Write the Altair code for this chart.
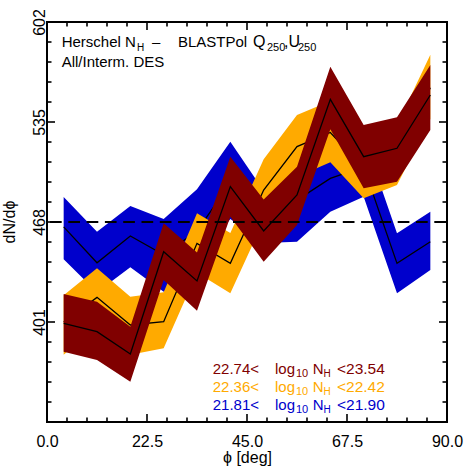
import altair as alt
import numpy as np
import pandas as pd

# ---------------- data ----------------
phi = [3.75, 11.25, 18.75, 26.25, 33.75, 41.25, 48.75, 56.25, 63.75, 71.25, 78.75, 86.25]

# 21.81 < log10 NH < 21.90  (blue)
blue_mid = [464.7, 440.7, 458.6, 446.0, 462.0, 494.0, 474.0, 482.7, 497.2, 505.0, 440.3, 454.8]
blue_hi = [484.8, 461.5, 478.7, 470.0, 490.0, 521.8, 489.0, 503.0, 517.0, 525.0, 460.4, 474.9]
blue_lo = [443.0, 421.0, 437.6, 421.3, 440.0, 470.0, 454.0, 454.8, 474.9, 485.0, 420.2, 435.8]

# 22.36 < log10 NH < 22.42  (orange)
orange_mid = [401.0, 417.5, 399.0, 401.2, 453.7, 440.3, 489.4, 518.5, 528.0, 504.0, 513.0, 558.0]
orange_hi = [419.0, 437.0, 418.0, 421.0, 473.8, 460.6, 510.0, 539.7, 549.0, 524.0, 533.0, 580.0]
orange_lo = [379.0, 398.0, 379.0, 383.4, 434.0, 420.2, 469.0, 498.4, 508.0, 483.9, 492.8, 537.0]

# 22.74 < log10 NH < 23.54  (dark red)
red_mid = [400.1, 394.5, 379.6, 448.1, 428.5, 491.7, 462.0, 486.1, 550.2, 511.8, 517.4, 553.1]
red_hi = [419.8, 414.6, 397.9, 467.1, 447.5, 511.8, 483.0, 505.0, 572.0, 533.0, 538.2, 573.2]
red_lo = [381.0, 375.5, 361.0, 429.1, 408.5, 471.6, 441.4, 466.0, 530.1, 490.6, 495.0, 529.6]

mean_level = 468.0

series_names = ["blue", "orange", "red"]
series_colors = ["#0000cc", "#ffaa00", "#800000"]
legend_lo = ["21.81", "22.36", "22.74"]
legend_hi = ["21.90", "22.42", "23.54"]

x_ticks = [0.0, 22.5, 45.0, 67.5, 90.0]
y_ticks = [401, 468, 535, 602]
x_range = [0.0, 90.0]
y_range = [334.0, 602.0]

# ---------------- build tables ----------------
rows = []
for name, mid, lo, hi in zip(series_names,
                             [blue_mid, orange_mid, red_mid],
                             [blue_lo, orange_lo, red_lo],
                             [blue_hi, orange_hi, red_hi]):
    for p, m, l, h in zip(phi, mid, lo, hi):
        rows.append(dict(series=name, phi=p, mid=m, lo=l, hi=h))
df = pd.DataFrame(rows)

W, H = 400, 400
PADL, PADT = 47, 22
FONT = "Liberation Sans"

xs = alt.Scale(domain=x_range, nice=False, zero=False)
ys = alt.Scale(domain=y_range, nice=False, zero=False)

xaxis = alt.Axis(values=x_ticks, format=".1f", labelFlush=False, labelPadding=11,
                 ticks=False, tickSize=0, domain=False, grid=False, title=None,
                 labelFontSize=16, labelFont=FONT, labelColor="black", labelOverlap=False)
yaxis = alt.Axis(values=y_ticks, labelAngle=270, labelAlign="center", labelBaseline="alphabetic",
                 labelPadding=3, ticks=False, tickSize=0, domain=False, grid=False, title=None,
                 labelFontSize=16, labelFont=FONT, labelColor="black", labelOverlap=False,
                 labelBound=False)

layers = []
base = alt.Chart(df)
for name, color in zip(series_names, series_colors):
    d = base.transform_filter(alt.datum.series == name)
    layers.append(d.mark_area(color=color, opacity=1, strokeWidth=0).encode(
        x=alt.X("phi:Q", scale=xs, axis=xaxis),
        y=alt.Y("lo:Q", scale=ys, axis=yaxis),
        y2="hi:Q"))
    layers.append(d.mark_line(color="black", strokeWidth=1.3).encode(
        x=alt.X("phi:Q", scale=xs, axis=xaxis),
        y=alt.Y("mid:Q", scale=ys, axis=yaxis)))

# dashed mean line
mean_df = pd.DataFrame({"x": [x_range[0]], "x2": [x_range[1]], "y": [mean_level]})
layers.append(alt.Chart(mean_df).mark_rule(color="black", strokeWidth=2,
                                           strokeDash=[11.7, 6.6], strokeDashOffset=15.3).encode(
    x=alt.X("x:Q", scale=xs, axis=xaxis), x2="x2:Q",
    y=alt.Y("y:Q", scale=ys, axis=yaxis)))

# inward ticks on all four sides
dxp = (x_range[1] - x_range[0]) / W
dyp = (y_range[1] - y_range[0]) / H
tick_rows = []
xt_minor = np.linspace(x_range[0], x_range[1], 21)
for i, v in enumerate(xt_minor):
    L = 8 if i % 5 == 0 else 4.5
    tick_rows.append(dict(x=v, x2=v, y=y_range[0], y2=y_range[0] + L * dyp))
    tick_rows.append(dict(x=v, x2=v, y=y_range[1], y2=y_range[1] - L * dyp))
yt_minor = np.linspace(y_range[0], y_range[1], 21)
for i, v in enumerate(yt_minor):
    L = 8 if i % 5 == 0 else 4.5
    tick_rows.append(dict(x=x_range[0], x2=x_range[0] + L * dxp, y=v, y2=v))
    tick_rows.append(dict(x=x_range[1], x2=x_range[1] - L * dxp, y=v, y2=v))
ticks_df = pd.DataFrame(tick_rows)
layers.append(alt.Chart(ticks_df).mark_rule(color="black", strokeWidth=1.6).encode(
    x=alt.X("x:Q", scale=xs, axis=xaxis), x2="x2:Q",
    y=alt.Y("y:Q", scale=ys, axis=yaxis), y2="y2:Q"))


def txt(s, x, y, size=15, color="black", angle=0, align="left"):
    return alt.Chart(pd.DataFrame({"t": [s]})).mark_text(
        font=FONT, fontSize=size, color=color, angle=angle, align=align,
        baseline="alphabetic").encode(
        x=alt.value(x - PADL), y=alt.value(y - PADT), text="t:N")


# title text
layers += [
    txt("Herschel N", 61.7, 47),
    txt("H", 137, 50.5, size=10),
    txt("\u2013", 152, 47),
    txt("BLASTPol", 178, 47, size=15),
    txt("Q", 253, 47, size=16),
    txt("250", 267, 51, size=11),
    txt(",U", 284, 47, size=16),
    txt("250", 298, 51, size=11),
    txt("All/Interm. DES", 61.7, 67),
]

# legend text (top to bottom: red, orange, blue)
baselines = [374, 392, 410]
for k, idx in enumerate([2, 1, 0]):
    c = series_colors[idx]
    yb = baselines[k]
    layers += [
        txt(legend_lo[idx] + "<", 212.7, yb, color=c),
        txt("log", 275, yb, color=c),
        txt("10", 296, yb + 3, size=11, color=c),
        txt("N", 312.7, yb, color=c),
        txt("H", 323.5, yb + 3, size=10, color=c),
        txt("<" + legend_hi[idx], 337, yb, size=15.5, color=c),
    ]

# axis titles
layers.append(txt("\u03d5 [deg]", 247.5, 463, size=16, align="center"))
layers.append(txt("dN/d\u03d5", 15, 222, size=16, angle=270, align="center"))

chart = alt.layer(*layers).properties(
    width=W, height=H,
    autosize="none",
    padding={"left": PADL, "top": PADT, "right": 24, "bottom": 49},
    background="white",
).configure_view(stroke="black", strokeWidth=2)

chart.save("out.html", embed_options={"renderer": "svg", "actions": False})
